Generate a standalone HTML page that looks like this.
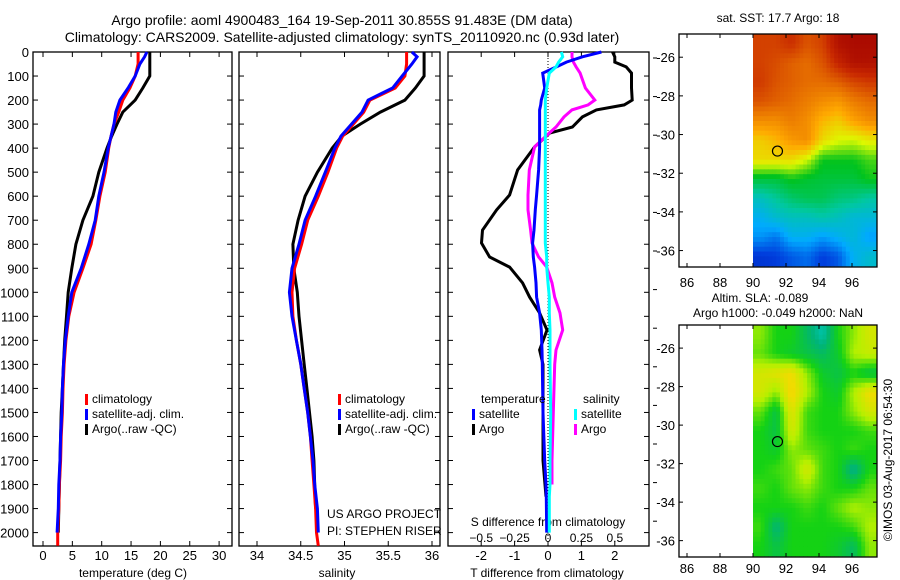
<!DOCTYPE html>
<html><head><meta charset="utf-8"><style>
body{margin:0;background:#fff;}
svg{display:block;font-family:"Liberation Sans",sans-serif;}
text{fill:#000;}
</style></head><body>
<svg id="fig" width="900" height="580" viewBox="0 0 900 580">
<defs>
<clipPath id="clip1"><rect x="679" y="34" width="198" height="233"/></clipPath>
<clipPath id="clip2"><rect x="679" y="325" width="198" height="232"/></clipPath>
</defs>
<text x="342" y="25" font-size="14" text-anchor="middle">Argo profile: aoml 4900483_164 19-Sep-2011 30.855S 91.483E (DM data)</text>
<text x="342" y="42" font-size="14" text-anchor="middle">Climatology: CARS2009. Satellite-adjusted climatology: synTS_20110920.nc (0.93d later)</text>
<g id="g"></g>
</svg>
<script>
// ---------- data ----------
const depthsUpper = [0,20,50,100,150,200,250,300,350,400,500,600,700,800,900,1000,1100,1200,1300,1400,1500,1600,1700,1800,1900,2000];
const tempClim =   [16.2,16.2,16.2,15.7,14.8,13.6,12.9,12.1,11.6,11.2,10.6,9.7,9.0,8.2,6.8,5.3,4.4,3.9,3.6,3.4,3.3,3.1,3.0,2.8,2.7,2.5];
const tempSat =    [17.7,17.3,16.5,15.7,14.5,13.1,12.4,12.1,11.6,11.1,10.4,9.5,8.9,7.8,6.5,4.9,4.3,3.8,3.5,3.3,3.2,3.0,2.9,2.7,2.6,2.4];
const tempArgo =   [18.2,18.2,18.2,18.2,17.0,15.7,13.6,12.6,11.7,10.9,9.5,8.5,6.8,5.6,4.9,4.3,4.0,3.7,3.5,3.3,3.1,3.0,2.9,2.8,2.7,2.6];
const salClim =    [35.71,35.71,35.71,35.69,35.58,35.29,35.22,35.10,34.98,34.91,34.81,34.70,34.58,34.51,34.43,34.40,34.41,34.45,34.50,34.54,34.58,34.61,34.63,34.65,34.67,34.68];
const salSat =     [35.77,35.83,35.77,35.66,35.55,35.27,35.20,35.08,34.96,34.89,34.78,34.67,34.55,34.48,34.40,34.37,34.40,34.45,34.50,34.54,34.58,34.61,34.64,34.66,34.69,34.70];
const salArgo =    [35.91,35.91,35.91,35.91,35.81,35.69,35.41,35.18,34.97,34.86,34.69,34.55,34.47,34.41,34.42,34.46,34.48,34.51,34.54,34.57,34.60,34.63,34.65,34.66,34.67,null];
const dTdepths = [0,20,42,62,88,150,200,220,241,270,312,337,395,491,595,657,741,795,853,895,961,1020,1086,1157,1240,1300,1500,1700,1800,1850,2000];
const dTArgo =   [1.93,2.0,2.0,2.34,2.5,2.5,2.52,2.28,1.45,1.03,0.73,0.05,-0.40,-0.91,-1.15,-1.54,-1.96,-1.99,-1.75,-1.15,-0.76,-0.55,-0.25,-0.03,-0.25,-0.15,-0.15,-0.15,-0.09,-0.06,null];
const dTSat =    [1.6,1.03,0.55,0.25,-0.16,-0.1,-0.2,-0.22,-0.25,-0.25,-0.25,-0.25,-0.25,-0.28,-0.34,-0.38,-0.42,-0.46,-0.44,-0.40,-0.36,-0.34,-0.25,-0.2,-0.18,-0.17,-0.15,-0.1,-0.06,-0.05,-0.04];
const dSSat =    [0.10,0.11,0.08,0.06,0.01,-0.01,-0.02,-0.02,-0.02,-0.02,-0.02,-0.02,-0.02,-0.02,-0.02,-0.02,-0.02,-0.02,-0.01,-0.01,0.0,0.01,0.01,0.015,0.015,0.015,0.02,0.015,0.015,0.01,0.01];
const dSArgo =   [0.18,0.18,0.19,0.21,0.24,0.28,0.35,0.30,0.18,0.12,0.06,0.01,-0.10,-0.14,-0.15,-0.15,-0.13,-0.12,-0.07,-0.01,0.03,0.05,0.09,0.11,0.06,0.05,0.04,0.03,0.03,null,null];
const depthTicks = [0,100,200,300,400,500,600,700,800,900,1000,1100,1200,1300,1400,1500,1600,1700,1800,1900,2000];
const tempTicks = [0,5,10,15,20,25,30];
const salTicks = [34,34.5,35,35.5,36];
const salTickLabels = ["34","34.5","35","35.5","36"];
const dTTicks = [-2,-1,0,1,2];
const dSTicks = [-0.5,-0.25,0,0.25,0.5];
const lonTicks = [86,88,90,92,94,96];
const latTicks = [26,28,30,32,34,36];
// map grids: 8 cols (lon 90..97.5), 12 rows (lat 25..37), cell centres
const sstGrid = [
[0.85,0.85,0.88,0.82,0.85,0.95,0.97,0.97],
[0.85,0.83,0.80,0.78,0.82,0.90,0.95,0.95],
[0.86,0.82,0.80,0.78,0.78,0.80,0.84,0.86],
[0.82,0.80,0.78,0.75,0.72,0.70,0.75,0.78],
[0.72,0.72,0.75,0.72,0.65,0.62,0.68,0.72],
[0.62,0.65,0.70,0.72,0.60,0.56,0.55,0.58],
[0.60,0.60,0.60,0.55,0.45,0.45,0.45,0.48],
[0.42,0.42,0.45,0.43,0.42,0.42,0.42,0.45],
[0.30,0.34,0.38,0.40,0.40,0.37,0.36,0.33],
[0.24,0.28,0.30,0.30,0.32,0.30,0.27,0.27],
[0.20,0.17,0.24,0.24,0.21,0.24,0.27,0.21],
[0.10,0.11,0.14,0.16,0.11,0.14,0.24,0.28]];
const slaGrid = [
[0.55,0.40,0.40,0.25,0.10,0.40,0.55,0.70],
[0.50,0.40,0.35,0.30,0.25,0.35,0.60,0.65],
[0.70,0.75,0.80,0.55,0.35,0.30,0.40,0.30],
[0.70,0.55,0.85,0.60,0.40,0.35,0.60,0.80],
[0.50,0.30,0.75,0.45,0.40,0.40,0.55,0.70],
[0.40,0.30,0.70,0.45,0.40,0.40,0.40,0.45],
[0.40,0.35,0.55,0.50,0.45,0.40,0.45,0.40],
[0.40,0.45,0.50,0.70,0.45,0.40,0.15,0.40],
[0.45,0.40,0.50,0.55,0.45,0.40,0.40,0.50],
[0.40,0.40,0.40,0.45,0.40,0.50,0.60,0.55],
[0.45,0.20,0.40,0.40,0.40,0.40,0.45,0.60],
[0.40,0.30,0.40,0.40,0.40,0.35,0.25,0.55]];
const argoLon = 91.483, argoLat = 30.855;

// ---------- helpers ----------
const NS="http://www.w3.org/2000/svg";
const G=document.getElementById('g');
function el(tag,attrs,parent){const e=document.createElementNS(NS,tag);for(const k in attrs)e.setAttribute(k,attrs[k]);(parent||G).appendChild(e);return e;}
function txt(x,y,s,size,anchor,parent){const t=el('text',{x:x,y:y,'font-size':size||13,'text-anchor':anchor||'middle'},parent);t.textContent=s;return t;}
const TOP=52,BOT=546;
const yD=d=>TOP+d*0.2403;
const xT=t=>43+t*5.87;
const xS=s=>257+(s-34)*87.5;
const xdT=v=>548+v*33.4;
const xdS=v=>548+v*133.6;

function frame(x0,x1,name){
  const r=el('rect',{x:x0,y:TOP,width:x1-x0,height:BOT-TOP,fill:'none',stroke:'#000','stroke-width':1.3});
  
  
  depthTicks.forEach(d=>{el('line',{x1:x0,x2:x0+5,y1:yD(d),y2:yD(d),stroke:'#000'});el('line',{x1:x1,x2:x1-5,y1:yD(d),y2:yD(d),stroke:'#000'});});
}
function xticks(vals,fx,labels,name){
  const g=el('g',{});
  
  
  vals.forEach((v,i)=>{const x=fx(v);el('line',{x1:x,x2:x,y1:BOT,y2:BOT-5,stroke:'#000'},g);el('line',{x1:x,x2:x,y1:TOP,y2:TOP+5,stroke:'#000'},g);txt(x,560,labels?labels[i]:String(v),13,'middle',g);});
}
function line(depths,vals,fx,color,name,w){
  let pts=[];
  depths.forEach((d,i)=>{if(vals[i]!==null&&vals[i]!==undefined)pts.push(fx(vals[i]).toFixed(1)+','+yD(d).toFixed(1));});
  const p=el('polyline',{points:pts.join(' '),fill:'none',stroke:color,'stroke-width':w||3,'stroke-linejoin':'miter'});
  
  
}
function legend(x,y,items,name){
  const g=el('g',{});
  
  
  items.forEach((it,i)=>{el('rect',{x:x,y:y+i*15-9,width:3,height:11,fill:it[1]},g);txt(x+7,y+i*15,it[0],12,'start',g);});
}

// ---------- panel 1: temperature ----------
frame(33,232,'temperature-panel');
const yl=el('g',{});


depthTicks.forEach(d=>txt(29,yD(d)+5,String(d),13,'end',yl));
xticks(tempTicks,xT,null,'temperature-x-ticks');
txt(133,577,'temperature (deg C)',12);
line(depthsUpper,tempArgo,xT,'#000','temp-argo-line');
line(depthsUpper.concat([2055]),tempClim.concat([2.5]),xT,'#f00','temp-climatology-line');
line(depthsUpper,tempSat,xT,'#00f','temp-satellite-line');
legend(85,403,[['climatology','#f00'],['satellite-adj. clim.','#00f'],['Argo(..raw -QC)','#000']],'temperature-legend');

// ---------- panel 2: salinity ----------
frame(239,440,'salinity-panel');
xticks(salTicks,xS,salTickLabels,'salinity-x-ticks');
txt(337,577,'salinity',12);
line(depthsUpper,salArgo,xS,'#000','sal-argo-line');
line(depthsUpper.concat([2055]),salClim.concat([34.70]),xS,'#f00','sal-climatology-line');
line(depthsUpper,salSat,xS,'#00f','sal-satellite-line');
legend(338,403,[['climatology','#f00'],['satellite-adj. clim.','#00f'],['Argo(..raw -QC)','#000']],'salinity-legend');
txt(327,518,'US ARGO PROJECT',12,'start');
txt(327,535,'PI: STEPHEN RISER',12,'start');

// ---------- panel 3: differences ----------
frame(448,649,'difference-panel');
el('line',{x1:548,x2:548,y1:TOP,y2:BOT,stroke:'#000','stroke-dasharray':'1,2'});
xticks(dTTicks,xdT,null,'t-difference-x-ticks');
txt(547,577,'T difference from climatology',12);
const sg=el('g',{});


txt(548,526,'S difference from climatology',12,'middle',sg);
dSTicks.forEach(v=>txt(xdS(v),542,String(v).replace('-','\u2212'),12,'middle',sg));
line(dTdepths,dTArgo,xdT,'#000','t-diff-argo-line');
line(dTdepths,dSArgo,xdS,'#f0f','s-diff-argo-line');
line(dTdepths,dTSat,xdT,'#00f','t-diff-satellite-line');
line(dTdepths,dSSat,xdS,'#0ff','s-diff-satellite-line');
txt(481,403,'temperature',12,'start');
txt(583,403,'salinity',12,'start');
legend(472,418,[['satellite','#00f'],['Argo','#000']],'temperature-diff-legend');
legend(574,418,[['satellite','#0ff'],['Argo','#f0f']],'salinity-diff-legend');
for(let i=0;i<13;i++){const y=58+i*38.6;if(y<545)el('line',{x1:653,x2:657,y1:y,y2:y,stroke:'#000'});}

// ---------- maps ----------
function lerp(a,b,t){return a+(b-a)*t;}
function cmap(stops,v){v=Math.max(0,Math.min(1,v));const n=stops.length-1;const i=Math.min(n-1,Math.floor(v*n));const t=v*n-i;const a=stops[i],b=stops[i+1];return 'rgb('+[0,1,2].map(k=>Math.round(lerp(a[k],b[k],t))).join(',')+')';}
const sstStops=[[0,0,130],[0,60,220],[0,170,255],[0,200,160],[0,195,30],[220,250,0],[255,170,0],[230,110,0],[200,40,0],[160,0,0]];
const slaStops=[[0,210,220],[0,180,120],[20,210,20],[180,240,0],[240,220,0],[245,180,0]];
function sample(grid,r,c){ // bilinear at fractional cell-centre coords
  const R=grid.length,C=grid[0].length;
  r=Math.max(0,Math.min(R-1,r));c=Math.max(0,Math.min(C-1,c));
  const r0=Math.floor(r),c0=Math.floor(c),r1=Math.min(R-1,r0+1),c1=Math.min(C-1,c0+1);
  const fr=r-r0,fc=c-c0;
  return lerp(lerp(grid[r0][c0],grid[r0][c1],fc),lerp(grid[r1][c0],grid[r1][c1],fc),fr);
}
function map(y0,y1,grid,stops,name,labY,clip){
  const x0=679,x1=877;
  const lx=lon=>687+(lon-86)*16.5;
  const pxLat=(y1-y0)/12.05;
  const ly=lat=>y0+(lat-24.8)*pxLat;
  const g=el('g',{});
  
  
  const cells=el('g',{'clip-path':'url(#'+clip+')'},g);
  const SUB=4, cw=(lx(97.5)-lx(90))/8/SUB, ch=pxLat/SUB;
  for(let r=0;r<12*SUB;r++)for(let c=0;c<8*SUB;c++){
    const v=sample(grid,(r+0.5)/SUB-0.5,(c+0.5)/SUB-0.5);
    const cell=el('rect',{x:(lx(90)+c*cw).toFixed(2),y:(ly(25)+r*ch-0.2*pxLat).toFixed(2),width:(cw+0.4).toFixed(2),height:(ch+0.4).toFixed(2),fill:cmap(stops,v)},cells);
    
    
  }
  el('rect',{x:lx(90),y:y0,width:x1-lx(90),height:ly(25)-y0-0.2*pxLat+1,fill:cmap(stops,grid[0][0])},cells).setAttribute('opacity','0');
  el('rect',{x:x0,y:y0,width:x1-x0,height:y1-y0,fill:'none',stroke:'#000','stroke-width':1.3},g);
  lonTicks.forEach(l=>{const x=lx(l);el('line',{x1:x,x2:x,y1:y1,y2:y1-4,stroke:'#000'},g);el('line',{x1:x,x2:x,y1:y0,y2:y0+4,stroke:'#000'},g);txt(x,labY,String(l),13,'middle',g);});
  latTicks.forEach(l=>{const y=ly(l);el('line',{x1:x0,x2:x0+4,y1:y,y2:y,stroke:'#000'},g);el('line',{x1:x1,x2:x1-4,y1:y,y2:y,stroke:'#000'},g);txt(675,y+5,'-'+l,13,'end',g);});
  const c=el('circle',{cx:lx(argoLon),cy:ly(argoLat),r:5,fill:'none',stroke:'#000','stroke-width':1.2},g);
  
  
}
map(34,267,sstGrid,sstStops,'sst-map',287,'clip1');
map(325,557,slaGrid,slaStops,'sla-map',573,'clip2');
txt(778,22,'sat. SST: 17.7 Argo: 18',12);
txt(760,302,'Altim. SLA: -0.089',12);
txt(778,317,'Argo h1000: -0.049 h2000: NaN',12);
const im=txt(0,0,'\u00a9IMOS 03-Aug-2017 06:54:30',12,'middle');
im.setAttribute('transform','translate(892,460) rotate(-90)');

</script>
</body></html>
